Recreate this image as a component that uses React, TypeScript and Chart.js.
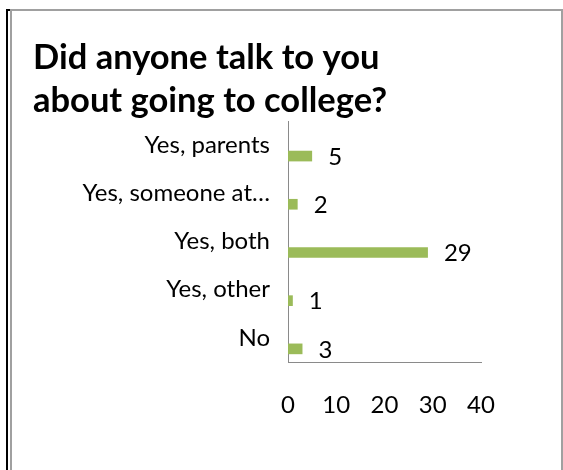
import React, { useEffect, useRef } from "react";
import { Chart, registerables } from "chart.js";

Chart.register(...registerables);

const titleLines = ["Did anyone talk to you", "about going to college?"];
const categories = ["Yes, parents", "Yes, someone at…", "Yes, both", "Yes, other", "No"];
const emptySeries = [null, null, null, null, null];
const counts = [5, 2, 29, 1, 3];
const xMin = 0;
const xMax = 40;
const xStep = 10;

const FONT = "Lato, 'Open Sans', sans-serif";
const LABEL_SIZE = 24;

const valueLabels = {
  id: "valueLabels",
  afterDatasetsDraw(chart: any) {
    const ctx = chart.ctx;
    const meta = chart.getDatasetMeta(1);
    ctx.save();
    ctx.font = `${LABEL_SIZE}px ${FONT}`;
    ctx.fillStyle = "#000000";
    ctx.textAlign = "left";
    ctx.textBaseline = "middle";
    meta.data.forEach((bar: any, i: number) => {
      ctx.fillText(String(counts[i]), bar.x + 16, bar.y + 1);
    });
    ctx.restore();
  },
};

export default function App() {
  const ref = useRef<HTMLCanvasElement | null>(null);

  useEffect(() => {
    if (!ref.current) return;
    const chart = new Chart(ref.current, {
      type: "bar",
      data: {
        labels: categories,
        datasets: [
          { label: "empty", data: emptySeries as any, backgroundColor: "#9BBB59" },
          { label: "Count", data: counts, backgroundColor: "#9BBB59" },
        ],
      },
      options: {
        indexAxis: "y",
        animation: false,
        responsive: false,
        maintainAspectRatio: false,
        datasets: { bar: { categoryPercentage: 0.91, barPercentage: 0.486 } },
        layout: { padding: { left: 33, right: 82, top: 36, bottom: 0 } },
        plugins: {
          legend: { display: false },
          tooltip: { enabled: false },
          title: {
            display: true,
            text: titleLines,
            align: "start",
            color: "#000000",
            font: { family: FONT, size: 34.5, weight: "bold", lineHeight: 43 / 34.5 },
            padding: { top: 0, bottom: -1 },
          },
        },
        scales: {
          y: {
            type: "category",
            position: "left",
            grid: { display: false, drawTicks: false },
            border: { display: true, color: "#8A8A8A", width: 1 },
            ticks: {
              color: "#000000",
              padding: 18,
              font: { family: FONT, size: LABEL_SIZE },
            },
            afterFit: (scale: any) => {
              scale.width = 255;
            },
          },
          x: {
            type: "linear",
            position: "bottom",
            min: xMin,
            max: xMax,
            grid: { display: false, drawTicks: false },
            border: { display: true, color: "#8A8A8A", width: 1 },
            ticks: {
              stepSize: xStep,
              color: "#000000",
              padding: 29,
              maxRotation: 0,
              font: { family: FONT, size: LABEL_SIZE },
            },
            afterFit: (scale: any) => {
              scale.height = 108;
            },
          },
        },
      },
      plugins: [valueLabels],
    });
    return () => chart.destroy();
  }, []);

  return (
    <div style={{ position: "fixed", left: 0, top: 0, width: 563, height: 470, background: "#ffffff", overflow: "hidden" }}>
      <canvas ref={ref} width={563} height={470} style={{ position: "absolute", left: 0, top: 0 }} />
      <div style={{ position: "absolute", left: 6, top: 9, width: 2, height: 461, background: "#000000" }} />
      <div style={{ position: "absolute", left: 6, top: 9, width: 5, height: 2, background: "#000000" }} />
      <div style={{ position: "absolute", left: 10, top: 9, width: 552, height: 2, background: "#A0A0A0" }} />
      <div style={{ position: "absolute", left: 10, top: 9, width: 2, height: 461, background: "#A0A0A0" }} />
      <div style={{ position: "absolute", left: 561, top: 9, width: 2, height: 461, background: "#A0A0A0" }} />
    </div>
  );
}
